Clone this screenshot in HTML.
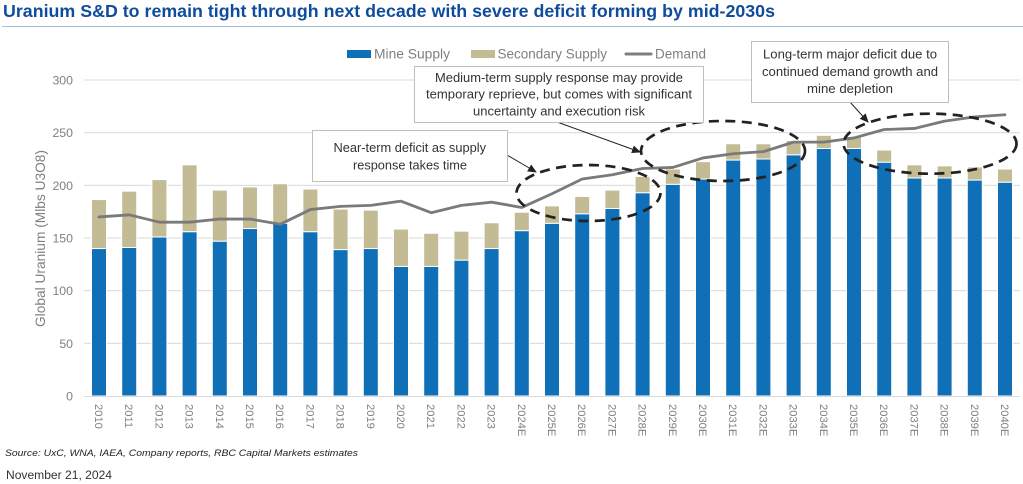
<!DOCTYPE html>
<html lang="en">
<head>
<meta charset="utf-8">
<title>Uranium S&amp;D chart</title>
<style>
html,body{margin:0;padding:0;background:#fff;width:1023px;height:484px;overflow:hidden}
svg{display:block;font-family:"Liberation Sans",sans-serif}
.note{font-size:12.5px;fill:#333}
.legend-text{font-size:14px;fill:#7f7f7f}
.box{fill:#fff;stroke:#bfbfbf;stroke-width:1}
.ring{fill:none;stroke:#222;stroke-width:2.7;stroke-dasharray:10 6.5}
.arrow{stroke:#222;stroke-width:1;fill:none}
</style>
</head>
<body>
<svg id="chart" xmlns="http://www.w3.org/2000/svg" width="1023" height="484" viewBox="0 0 1023 484">
  <defs>
    <marker id="head" markerWidth="9" markerHeight="8" refX="8" refY="4" orient="auto" markerUnits="userSpaceOnUse">
      <path d="M0 0L9 4L0 8Z" fill="#222"></path>
    </marker>
  </defs>
  <text x="3" y="17" font-size="17.5" font-weight="bold" fill="#0f4c9c" textLength="772" lengthAdjust="spacingAndGlyphs">Uranium S&amp;D to remain tight through next decade with severe deficit forming by mid-2030s</text>
  <rect x="2" y="26" width="1021" height="1" fill="#a3c0d9"></rect>

  <g id="grid"></g>
  <g id="yticks"></g>
  <g id="bars"></g>
  <rect x="84" y="396" width="936" height="1" fill="#d9d9d9"></rect>
  <g id="xticks"></g>
  <text transform="translate(45 238.5) rotate(-90)" text-anchor="middle" font-size="14" fill="#7f7f7f" textLength="177" lengthAdjust="spacingAndGlyphs">Global Uranium (Mlbs U3O8)</text>

  <g id="line-layer"></g>

  <g>
    <rect x="347" y="50" width="24" height="8" fill="#0f6fb7"></rect>
    <text class="legend-text" x="374" y="58.5" textLength="76" lengthAdjust="spacingAndGlyphs">Mine Supply</text>
    <rect x="471" y="50" width="24" height="8" fill="#c2bb94"></rect>
    <text class="legend-text" x="497.5" y="58.5" textLength="109.5" lengthAdjust="spacingAndGlyphs">Secondary Supply</text>
    <line x1="626" y1="54" x2="651" y2="54" stroke="#7f7f7f" stroke-width="3" stroke-linecap="round"></line>
    <text class="legend-text" x="655" y="58.5" textLength="51" lengthAdjust="spacingAndGlyphs">Demand</text>
  </g>

  <ellipse class="ring" cx="588.5" cy="193" rx="72" ry="28"></ellipse>
  <ellipse class="ring" cx="723" cy="151" rx="82" ry="30"></ellipse>
  <ellipse class="ring" cx="930" cy="143.7" rx="86.5" ry="30"></ellipse>

  <line class="arrow" x1="507" y1="155" x2="536" y2="172" marker-end="url(#head)"></line>
  <line class="arrow" x1="557" y1="122" x2="640" y2="152" marker-end="url(#head)"></line>
  <line class="arrow" x1="850" y1="102" x2="868" y2="122" marker-end="url(#head)"></line>

  <g>
    <rect class="box" x="312.5" y="130.5" width="195" height="51"></rect>
    <text class="note" x="333.5" y="152" textLength="152.5" lengthAdjust="spacingAndGlyphs">Near-term deficit as supply</text>
    <text class="note" x="353" y="169.5" textLength="114" lengthAdjust="spacingAndGlyphs">response takes time</text>
  </g>
  <g>
    <rect class="box" x="414.5" y="66.5" width="289" height="56"></rect>
    <text class="note" x="435" y="82" textLength="248" lengthAdjust="spacingAndGlyphs">Medium-term supply response may provide</text>
    <text class="note" x="426" y="98.7" textLength="266" lengthAdjust="spacingAndGlyphs">temporary reprieve, but comes with significant</text>
    <text class="note" x="473" y="115.7" textLength="172" lengthAdjust="spacingAndGlyphs">uncertainty and execution risk</text>
  </g>
  <g>
    <rect class="box" x="751.5" y="41.5" width="197" height="61"></rect>
    <text class="note" x="763" y="58.7" textLength="174" lengthAdjust="spacingAndGlyphs">Long-term major deficit due to</text>
    <text class="note" x="762" y="76" textLength="176" lengthAdjust="spacingAndGlyphs">continued demand growth and</text>
    <text class="note" x="807" y="93" textLength="86" lengthAdjust="spacingAndGlyphs">mine depletion</text>
  </g>

  <text x="5" y="456" font-size="9.5" font-style="italic" fill="#222" textLength="353" lengthAdjust="spacingAndGlyphs">Source: UxC, WNA, IAEA, Company reports, RBC Capital Markets estimates</text>
  <text x="6" y="479" font-size="11.5" fill="#333" textLength="106" lengthAdjust="spacingAndGlyphs">November 21, 2024</text>
</svg>

<script>
const years = ["2010","2011","2012","2013","2014","2015","2016","2017","2018","2019","2020","2021","2022","2023","2024E","2025E","2026E","2027E","2028E","2029E","2030E","2031E","2032E","2033E","2034E","2035E","2036E","2037E","2038E","2039E","2040E"];
const mineSupply = [140,141,151,156,147,159,164,156,139,140,123,123,129,140,157,164,173,178,193,201,206,224,225,229,235,235,222,207,207,205,203];
const secondarySupply = [46,53,54,63,48,39,37,40,38,36,35,31,27,24,17,16,16,17,15,14,16,15,14,13,12,11,11,12,11,12,12];
const demand = [170,172,165,165,168,168,163,177,180,181,185,174,181,184,179,192,206,210,216,217,226,230,232,241,241,245,253,254,261,265,267];
const yTickValues = [0,50,100,150,200,250,300];

const NS = "http://www.w3.org/2000/svg";
const PLOT_BOTTOM = 396;
const PLOT_TOP = 80;
const Y_MAX = 300;
const FIRST_X = 99;
const LAST_X = 1005;
const BAR_WIDTH = 15;

function yScale(v) { return PLOT_BOTTOM - (v / Y_MAX) * (PLOT_BOTTOM - PLOT_TOP); }
function xScale(i) { return FIRST_X + i * (LAST_X - FIRST_X) / (years.length - 1); }
function make(tag, parent) {
  const el = document.createElementNS(NS, tag);
  parent.appendChild(el);
  return el;
}

const gridG = document.getElementById("grid");
const yTicksG = document.getElementById("yticks");
yTickValues.forEach(function (v) {
  if (v > 0) {
    const g = make("rect", gridG);
    
    
    g.setAttribute("x", 84);
    g.setAttribute("y", yScale(v) - 0.5);
    g.setAttribute("width", 936);
    g.setAttribute("height", 1);
    g.setAttribute("fill", "#d9d9d9");
  }
  const t = make("text", yTicksG);
  
  
  t.setAttribute("x", 73);
  t.setAttribute("y", yScale(v) + 4.5);
  t.setAttribute("text-anchor", "end");
  t.setAttribute("font-size", 12.3);
  t.setAttribute("fill", "#7f7f7f");
  t.textContent = String(v);
});

const barsG = document.getElementById("bars");
const xTicksG = document.getElementById("xticks");
years.forEach(function (label, i) {
  const x = xScale(i) - BAR_WIDTH / 2;
  const mineTop = yScale(mineSupply[i]);
  const totalTop = yScale(mineSupply[i] + secondarySupply[i]) - 0.5;

  const m = make("rect", barsG);
  
  
  m.setAttribute("x", x);
  m.setAttribute("y", mineTop);
  m.setAttribute("width", BAR_WIDTH);
  m.setAttribute("height", PLOT_BOTTOM - mineTop);
  m.setAttribute("fill", "#0f6fb7");
  m.setAttribute("stroke", "#fff");
  m.setAttribute("stroke-width", 1);

  const s = make("rect", barsG);
  
  
  s.setAttribute("x", x);
  s.setAttribute("y", totalTop);
  s.setAttribute("width", BAR_WIDTH);
  s.setAttribute("height", mineTop - totalTop);
  s.setAttribute("fill", "#c2bb94");
  s.setAttribute("stroke", "#fff");
  s.setAttribute("stroke-width", 1);

  const t = make("text", xTicksG);
  
  
  t.setAttribute("transform", "translate(" + (xScale(i) - 4) + " 404) rotate(90)");
  t.setAttribute("font-size", 11.2);
  t.setAttribute("fill", "#7f7f7f");
  t.textContent = label;
});

const lineLayer = document.getElementById("line-layer");
const demandLine = make("polyline", lineLayer);


demandLine.setAttribute("fill", "none");
demandLine.setAttribute("stroke", "#7a7a7a");
demandLine.setAttribute("stroke-width", 2.8);
demandLine.setAttribute("stroke-linejoin", "round");
demandLine.setAttribute("stroke-linecap", "round");
demandLine.setAttribute("points", demand.map(function (v, i) { return xScale(i) + "," + yScale(v); }).join(" "));
</script>
</body>
</html>
